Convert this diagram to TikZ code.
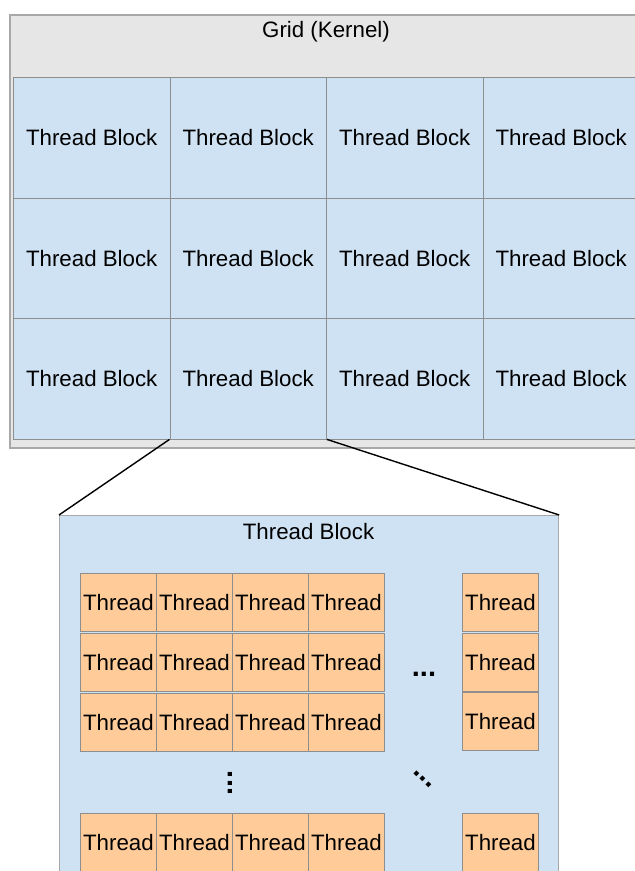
\documentclass[tikz,border=0pt]{standalone}
\usepackage{fontspec}
\setmainfont{Liberation Sans}
\definecolor{gridgray}{HTML}{E6E6E6}
\definecolor{edgegray}{HTML}{A8A8A8}
\definecolor{blockblue}{HTML}{CFE2F3}
\definecolor{threadorange}{HTML}{FFCC99}
\definecolor{celledge}{HTML}{8E8E8E}
\begin{document}
\begin{tikzpicture}[x=1pt,y=-1pt,
  txt/.style={font=\fontsize{22.3}{26}\selectfont},
  gridbox/.style={draw=edgegray, line width=1.5pt, fill=gridgray, inner sep=0},
  tblock/.style={txt, draw=celledge, line width=0.9pt, fill=blockblue, minimum width=156.5pt, minimum height=120.5pt, inner sep=0},
  bigblock/.style={draw=edgegray, line width=1.2pt, fill=blockblue, inner sep=0},
  thread/.style={txt, draw=celledge, line width=0.9pt, fill=threadorange, minimum width=76pt, minimum height=58pt, inner sep=0},
  dots/.style={font=\bfseries\fontsize{29}{31}\selectfont, text height=0.16em, text depth=0pt, inner sep=0},
  zoomline/.style={black, line width=1.4pt}]
\useasboundingbox (0,0) rectangle (635,871);
\clip (0,0) rectangle (635,871);
\node[gridbox, anchor=north west, minimum width=636pt, minimum height=433pt] (grid) at (9,14) {};
\node[txt] (gridtitle) at (326,32) {Grid (Kernel)};
\foreach \r in {1,2,3}{
  \foreach \c in {1,2,3,4}{
    \node[tblock, anchor=north west] (b-\r-\c) at ({13+156.5*(\c-1)},{77+120.5*(\r-1)}) {Thread Block};
  }
}
\node[bigblock, anchor=north west, minimum width=499pt, minimum height=380pt] (tb) at (59,515) {};
\node[txt] (tbtitle) at (308.5,532) {Thread Block};
\draw[zoomline] (b-3-2.south west) -- (tb.north west);
\draw[zoomline] (b-3-2.south east) -- (tb.north east);
\foreach \r/\y in {1/573,2/633,3/693,4/813}{
  \foreach \c in {1,2,3,4}{
    \node[thread, anchor=north west] (t-\r-\c) at ({80+76*(\c-1)},\y) {Thread};
  }
}
\node[thread, anchor=north west] (t-1-5) at (462,573) {Thread};
\node[thread, anchor=north west] (t-2-5) at (462,633) {Thread};
\node[thread, anchor=north west] (t-3-5) at (462,692) {Thread};
\node[thread, anchor=north west] (t-4-5) at (462,813) {Thread};
\node[dots] (hdots) at (424,676) {...};
\node[dots, rotate=90] (vdots) at (232,783) {...};
\node[dots, rotate=-45] (ddots) at (422,780) {...};
\end{tikzpicture}
\end{document}
